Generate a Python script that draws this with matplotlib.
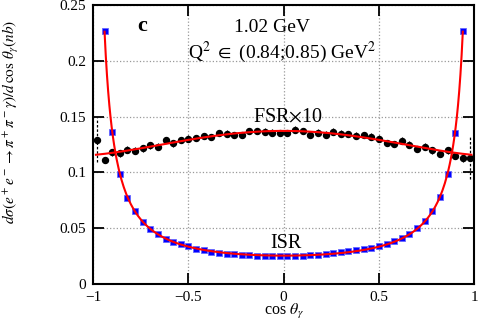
import numpy as np
import matplotlib.pyplot as plt

plt.rcParams['font.family'] = ['Liberation Serif', 'DejaVu Serif']
plt.rcParams['mathtext.fontset'] = 'stix'

# ISR points (blue squares)
isr_cos = [-0.94, -0.90, -0.86, -0.82, -0.78, -0.74, -0.70, -0.66, -0.62, -0.58,
           -0.54, -0.50, -0.46, -0.42, -0.38, -0.34, -0.30, -0.26, -0.22, -0.18,
           -0.14, -0.10, -0.06, -0.02, 0.02, 0.06, 0.10, 0.14, 0.18, 0.22,
           0.26, 0.30, 0.34, 0.38, 0.42, 0.46, 0.50, 0.54, 0.58, 0.62,
           0.66, 0.70, 0.74, 0.78, 0.82, 0.86, 0.90, 0.94]
isr_val = [0.227, 0.136, 0.0985, 0.0775, 0.0652, 0.056, 0.0494, 0.0446, 0.0406, 0.038,
           0.0356, 0.0338, 0.0317, 0.0302, 0.029, 0.0281, 0.0272, 0.0266, 0.0263, 0.0258,
           0.0254, 0.0251, 0.0250, 0.0249, 0.0249, 0.0250, 0.0252, 0.0256, 0.0262, 0.0268,
           0.0276, 0.0285, 0.0296, 0.0308, 0.0318, 0.0326, 0.0341, 0.0359, 0.0384, 0.0412,
           0.0452, 0.0498, 0.0562, 0.0652, 0.0778, 0.0983, 0.1358, 0.227]

# FSR x10 points (black dots)
fsr_cos = [-0.98, -0.94, -0.90, -0.86, -0.82, -0.78, -0.74, -0.70, -0.66, -0.62,
           -0.58, -0.54, -0.50, -0.46, -0.42, -0.38, -0.34, -0.30, -0.26, -0.22,
           -0.18, -0.14, -0.10, -0.06, -0.02, 0.02, 0.06, 0.10, 0.14, 0.18,
           0.22, 0.26, 0.30, 0.34, 0.38, 0.42, 0.46, 0.50, 0.54, 0.58,
           0.62, 0.66, 0.70, 0.74, 0.78, 0.82, 0.86, 0.90, 0.94, 0.98]
fsr_val = [0.1293, 0.1113, 0.118, 0.1173, 0.1203, 0.1194, 0.1215, 0.1242, 0.123, 0.129,
           0.126, 0.129, 0.1304, 0.131, 0.1328, 0.1317, 0.1353, 0.1347, 0.1335, 0.1335,
           0.1373, 0.1373, 0.1366, 0.1358, 0.1355, 0.1355, 0.1385, 0.1373, 0.1335, 0.1358,
           0.134, 0.1367, 0.1347, 0.1344, 0.1329, 0.1335, 0.132, 0.1302, 0.1263, 0.1254,
           0.1284, 0.125, 0.1209, 0.123, 0.12, 0.1167, 0.1197, 0.1149, 0.1128, 0.1134]
fsr_err_edge = [0.0195, 0.019]

isr_cos = np.array(isr_cos)
isr_val = np.array(isr_val)
fsr_cos = np.array(fsr_cos)
fsr_val = np.array(fsr_val)

# fits to the points
A = np.column_stack([1 / (1 - isr_cos**2), np.ones_like(isr_cos), isr_cos**2])
isr_coef = np.linalg.lstsq(A, isr_val, rcond=None)[0]
c_isr = np.linspace(isr_cos[0], isr_cos[-1], 300)
isr_fit = isr_coef[0] / (1 - c_isr**2) + isr_coef[1] + isr_coef[2] * c_isr**2

B = np.column_stack([np.ones_like(fsr_cos), fsr_cos**2, fsr_cos**4])
fsr_coef = np.linalg.lstsq(B, fsr_val, rcond=None)[0]
c_fsr = np.linspace(-0.985, 0.985, 300)
fsr_fit = fsr_coef[0] + fsr_coef[1] * c_fsr**2 + fsr_coef[2] * c_fsr**4

fig = plt.figure(figsize=(4.8, 3.22), dpi=100)
ax = fig.add_axes([0.194, 0.118, 0.794, 0.866])

ax.grid(True, linestyle=':', color='#999999', linewidth=0.9)
ax.set_axisbelow(True)

# edge FSR error bars (dotted)
ax.vlines([fsr_cos[0], fsr_cos[-1]],
          [fsr_val[0] - fsr_err_edge[0], fsr_val[-1] - fsr_err_edge[1]],
          [fsr_val[0] + fsr_err_edge[0], fsr_val[-1] + fsr_err_edge[1]],
          colors='black', linestyles=(0, (2, 1.5)), linewidth=0.9)
ax.errorbar(fsr_cos[1:-1], fsr_val[1:-1], yerr=0.003, fmt='none', ecolor='black', elinewidth=0.8)

ax.plot(isr_cos, isr_val, 's', color='#0000ff', markersize=4, markeredgewidth=0.6,
        markeredgecolor='#6666ff', zorder=3)
ax.plot(fsr_cos, fsr_val, 'o', color='black', markersize=4.3, zorder=3)
ax.plot(c_isr, isr_fit, color='red', linewidth=1.5, zorder=4)
ax.plot(c_fsr, fsr_fit, color='red', linewidth=1.5, zorder=4)

ax.set_xlim(-1, 1)
ax.set_ylim(0, 0.25)
ax.set_xticks([-1, -0.5, 0, 0.5, 1])
ax.set_xticklabels(['\u22121', '\u22120.5', '0', '0.5', '1'])
ax.set_yticks([0, 0.05, 0.1, 0.15, 0.2, 0.25])
ax.set_yticklabels(['0', '0.05', '0.1', '0.15', '0.2', '0.25'])
ax.tick_params(direction='in', length=8, width=1.3, labelsize=11, top=True, right=True, pad=5)
for s in ax.spines.values():
    s.set_linewidth(1.5)

ax.text(-0.74, 0.231, 'c', fontsize=16, fontweight='bold', ha='center', va='center')
ax.text(-0.06, 0.2298, '1.02 GeV', fontsize=14, ha='center', va='center')
ax.text(-0.5, 0.208, r'Q$^2$ $\in$ (0.84;0.85) GeV$^2$', fontsize=14, ha='left', va='center')
ax.text(0.024, 0.150, r'FSR$\times$10', fontsize=14.5, ha='center', va='center')
ax.text(0.013, 0.0365, 'ISR', fontsize=14.5, ha='center', va='center')

ax.set_xlabel(r'cos $\theta_\gamma$', fontsize=11.5)
ax.xaxis.set_label_coords(0.5, -0.066)
ax.set_ylabel(r'$d\sigma(e^+e^-\rightarrow\pi^+\pi^-\gamma)/d\,\cos\,\theta_\gamma(nb)$', fontsize=11)
ax.yaxis.set_label_coords(-0.19, 0.58)

fig.savefig('out.png', dpi=100)
